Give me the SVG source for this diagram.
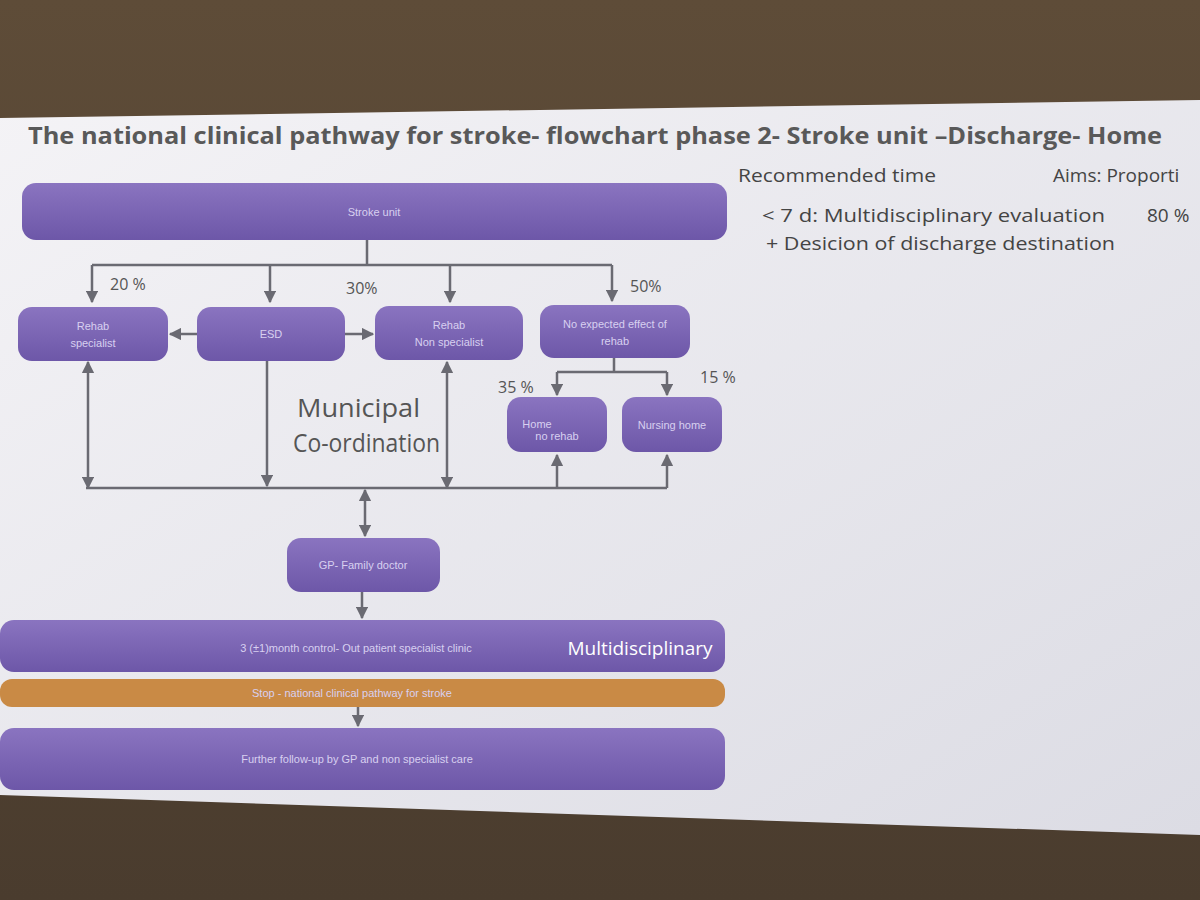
<svg xmlns="http://www.w3.org/2000/svg" width="1200" height="900" viewBox="0 0 1200 900">
<defs>
<linearGradient id="bg" x1="0" y1="0" x2="0" y2="1"><stop offset="0" stop-color="#5e4c38"/><stop offset="1" stop-color="#4a3c2e"/></linearGradient>
<linearGradient id="slide" x1="0" y1="0" x2="1" y2="1"><stop offset="0" stop-color="#f4f3f6"/><stop offset="1" stop-color="#dcdce4"/></linearGradient>
<linearGradient id="node" x1="0" y1="0" x2="0" y2="1"><stop offset="0" stop-color="#8a74c0"/><stop offset="1" stop-color="#6d57a8"/></linearGradient>
<marker id="a" viewBox="0 0 10 10" refX="9" refY="5" markerWidth="5" markerHeight="5" orient="auto-start-reverse"><path d="M0,0L10,5L0,10z" fill="#6a6a72"/></marker>
<style>
.n{fill:url(#node)}
.t{font-family:"Liberation Sans",Arial,sans-serif;fill:#d8d0f0;font-size:11px;text-anchor:middle}
.c{stroke:#6a6a72;stroke-width:2.5;fill:none}
.lab{font-family:"Open Sans","Liberation Sans",sans-serif;fill:#555;font-size:16px}
</style>
</defs>
<rect width="1200" height="900" fill="url(#bg)"/>
<polygon points="0,118 1200,100 1200,835 0,795" fill="url(#slide)"/>
<text x="28" y="144" textLength="1134" lengthAdjust="spacingAndGlyphs" font-family="Open Sans,Liberation Sans,sans-serif" font-size="24" font-weight="bold" fill="#595959">The national clinical pathway for stroke-  flowchart phase 2- Stroke unit –Discharge- Home</text>
<g font-family="Open Sans,Liberation Sans,sans-serif" font-size="19" fill="#444" lengthAdjust="spacingAndGlyphs">
<text x="738" y="182" textLength="198" lengthAdjust="spacingAndGlyphs">Recommended time</text>
<text x="1053" y="182">Aims: Proporti</text>
<text x="762" y="222" textLength="343" lengthAdjust="spacingAndGlyphs">&lt; 7 d: Multidisciplinary evaluation</text>
<text x="1147" y="222">80 %</text>
<text x="766" y="250" textLength="349" lengthAdjust="spacingAndGlyphs">+ Desicion of discharge destination</text>
</g>
<g id="connectors">
<path class="c" d="M367,240V265M92,265H612"/>
<path class="c" marker-end="url(#a)" d="M92,265V302"/>
<path class="c" marker-end="url(#a)" d="M270,265V302"/>
<path class="c" marker-end="url(#a)" d="M450,265V302"/>
<path class="c" marker-end="url(#a)" d="M612,265V301"/>
<path class="c" marker-end="url(#a)" d="M197,334H170"/>
<path class="c" marker-end="url(#a)" d="M345,334H373"/>
<path class="c" marker-start="url(#a)" marker-end="url(#a)" d="M88,362V488"/>
<path class="c" marker-start="url(#a)" marker-end="url(#a)" d="M447,362V488"/>
<path class="c" marker-end="url(#a)" d="M267,360V486"/>
<path class="c" d="M86,488H667"/>
<path class="c" marker-end="url(#a)" d="M557,488V455"/>
<path class="c" marker-end="url(#a)" d="M667,488V455"/>
<path class="c" d="M614,358V372M557,372H667"/>
<path class="c" marker-end="url(#a)" d="M557,372V395"/>
<path class="c" marker-end="url(#a)" d="M667,372V395"/>
<path class="c" marker-start="url(#a)" marker-end="url(#a)" d="M365,490V536"/>
<path class="c" marker-end="url(#a)" d="M362,592V618"/>
<path class="c" marker-end="url(#a)" d="M358,707V726"/>
</g>
<g class="lab">
<text x="110" y="290">20 %</text><text x="346" y="294">30%</text><text x="630" y="292">50%</text>
<text x="498" y="393">35 %</text><text x="700" y="383">15 %</text>
</g>
<text x="297" y="417" textLength="123" lengthAdjust="spacingAndGlyphs" font-family="Open Sans,Liberation Sans,sans-serif" font-size="25" fill="#555">Municipal</text>
<text x="293" y="452" textLength="147" lengthAdjust="spacingAndGlyphs" font-family="Open Sans,Liberation Sans,sans-serif" font-size="25" fill="#555">Co-ordination</text>
<g id="stroke-unit"><rect class="n" x="22" y="183" width="705" height="57" rx="14"/><text class="t" x="374" y="216" font-size="13">Stroke unit</text></g>
<g id="rehab-specialist"><rect class="n" x="18" y="307" width="150" height="54" rx="14"/><text class="t" x="93" y="330">Rehab</text><text class="t" x="93" y="347">specialist</text></g>
<g id="esd"><rect class="n" x="197" y="307" width="148" height="54" rx="14"/><text class="t" x="271" y="338">ESD</text></g>
<g id="rehab-non"><rect class="n" x="375" y="306" width="148" height="54" rx="14"/><text class="t" x="449" y="329">Rehab</text><text class="t" x="449" y="346">Non specialist</text></g>
<g id="no-effect"><rect class="n" x="540" y="305" width="150" height="53" rx="14"/><text class="t" x="615" y="328">No expected effect of</text><text class="t" x="615" y="345">rehab</text></g>
<g id="home"><rect class="n" x="507" y="397" width="100" height="55" rx="14"/><text class="t" x="537" y="428" font-size="10">Home</text><text class="t" x="557" y="440" font-size="12" fill="#fff">no rehab</text></g>
<g id="nursing"><rect class="n" x="622" y="397" width="100" height="55" rx="14"/><text class="t" x="672" y="429">Nursing home</text></g>
<g id="gp"><rect class="n" x="287" y="538" width="153" height="54" rx="14"/><text class="t" x="363" y="569">GP- Family doctor</text></g>
<g id="control"><rect class="n" x="0" y="620" width="725" height="52" rx="14"/><text class="t" x="356" y="652" font-size="13">3 (±1)month control-  Out patient specialist clinic</text><text x="640" y="655" font-family="Open Sans,Liberation Sans,sans-serif" font-size="19" fill="#fff" text-anchor="middle">Multidisciplinary</text></g>
<g id="stop"><rect x="0" y="679" width="725" height="28" rx="12" fill="#c98a45"/><text class="t" x="352" y="697" font-size="12" fill="#f3e3cc">Stop - national  clinical pathway for stroke</text></g>
<g id="further"><rect class="n" x="0" y="728" width="725" height="62" rx="14"/><text class="t" x="357" y="763" font-size="13">Further follow-up by GP and non specialist care</text></g>
</svg>
